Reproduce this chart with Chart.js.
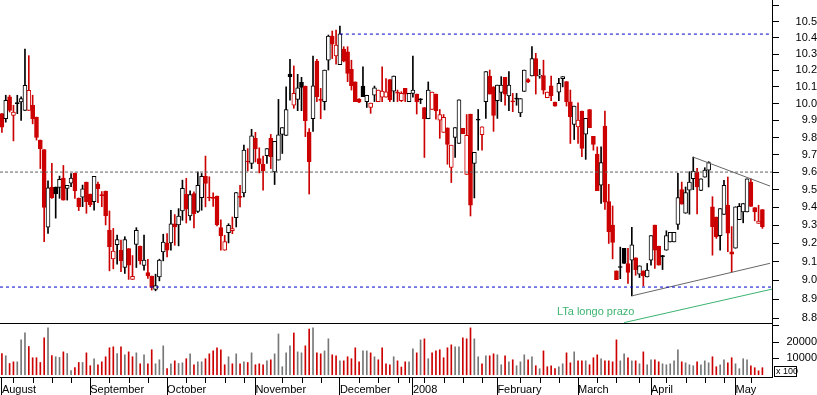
<!DOCTYPE html>
<html>
<head>
<meta charset="utf-8">
<script src="https://cdn.jsdelivr.net/npm/chart.js@4.4.1/dist/chart.umd.min.js"></script>
<style>
html, body { margin: 0; padding: 0; background: #fff; }
#wrap { width: 817px; height: 395px; }
</style>
</head>
<body>
<div id="wrap"><canvas id="grafico" width="817" height="395"></canvas></div>
<script>
// meses no eixo x (indice do primeiro pregao de cada mes)
const months = ['August', 'September', 'October', 'November', 'December', '2008', 'February', 'March', 'April', 'May'];
const monthStart = [0, 23, 43, 66, 88, 107, 129, 150, 169, 191];
const weekTicks = [3, 8, 13, 18, 28, 33, 38, 48, 53, 58, 63, 73, 78, 83, 93, 98, 103, 106, 110, 115, 120, 125, 135, 140, 145, 155, 160, 166, 173, 178, 183, 188, 195];
const totalSlots = 201;

const priceTicks = [8.8, 8.9, 9.0, 9.1, 9.2, 9.3, 9.4, 9.5, 9.6, 9.7, 9.8, 9.9, 10.0, 10.1, 10.2, 10.3, 10.4, 10.5, 10.6];
const volumeTicks = [10000, 20000, 30000];

const prevClose = 10.05;

const open = [
  9.94, 9.91, 10.04, 9.93, 10.00, 10.01, 9.96, 9.96, 9.99, 9.92,
  9.785, 9.73, 9.29, 9.515, 9.515, 9.513, 9.566, 9.507, 9.536, 9.594,
  9.453, 9.457, 9.543, 9.475, 9.432, 9.532, 9.470, 9.492, 9.274, 9.116,
  9.193, 9.163, 9.069, 9.172, 9.005, 9.195, 9.186, 9.080, 9.042, 9.023,
  8.951, 9.018, 9.154, 9.201, 9.203, 9.309, 9.302, 9.380, 9.474, 9.352,
  9.478, 9.378, 9.455, 9.575, 9.457, 9.457, 9.463, 9.287, 9.163, 9.260,
  9.271, 9.343, 9.462, 9.482, 9.663, 9.649, 9.795, 9.678, 9.645, 9.694,
  9.795, 9.601, 9.669, 9.818, 9.812, 10.178, 9.990, 10.025, 10.128, 10.105,
  9.832, 9.910, 10.256, 10.023, 10.012, 10.262, 10.411, 10.288, 10.235, 10.330,
  10.314, 10.206, 10.130, 10.027, 10.105, 10.012, 9.977, 10.050, 10.012, 10.038,
  10.038, 10.144, 10.075, 10.067, 10.018, 10.091, 10.012, 10.061, 10.057, 10.027,
  9.977, 9.910, 9.965, 10.057, 9.902, 9.830, 9.856, 9.626, 9.800, 9.765,
  9.854, 9.586, 9.937, 9.649, 9.904, 9.816, 10.012, 10.166, 10.101, 10.018,
  10.067, 10.158, 10.046, 10.014, 10.031, 9.945, 10.073, 10.144, 10.166, 10.272,
  10.165, 10.168, 10.035, 10.106, 10.009, 10.069, 10.150, 10.132, 10.011, 9.876,
  9.862, 9.955, 9.819, 9.965, 9.807, 9.703, 9.526, 9.867, 9.432, 9.302,
  9.051, 9.071, 9.174, 9.091, 9.109, 9.122, 9.033, 9.051, 9.018, 9.109,
  9.302, 9.185, 9.130, 9.163, 9.208, 9.208, 9.305, 9.500, 9.367, 9.497,
  9.562, 9.602, 9.496, 9.571, 9.611, 9.403, 9.346, 9.243, 9.361, 9.413,
  9.154, 9.174, 9.332, 9.375, 9.375, 9.543, 9.399, 9.311, 9.388
];
const high = [
  9.94, 10.05, 10.05, 9.99, 10.05, 10.04, 10.33, 10.29, 10.05, 9.92,
  9.785, 9.73, 9.55, 9.65, 9.515, 9.577, 9.638, 9.524, 9.592, 9.594,
  9.453, 9.526, 9.543, 9.475, 9.575, 9.543, 9.489, 9.492, 9.380, 9.283,
  9.246, 9.218, 9.237, 9.172, 9.134, 9.287, 9.186, 9.246, 9.114, 9.023,
  9.033, 9.114, 9.251, 9.254, 9.384, 9.360, 9.393, 9.554, 9.564, 9.493,
  9.487, 9.601, 9.592, 9.692, 9.573, 9.482, 9.463, 9.331, 9.245, 9.309,
  9.346, 9.484, 9.525, 9.756, 9.735, 9.848, 9.830, 9.740, 9.692, 9.735,
  9.818, 9.777, 10.025, 9.858, 10.101, 10.267, 10.227, 10.176, 10.158, 10.105,
  9.852, 10.288, 10.267, 10.091, 10.202, 10.417, 10.442, 10.448, 10.473, 10.345,
  10.345, 10.262, 10.130, 10.030, 10.221, 10.050, 10.003, 10.105, 10.081, 10.221,
  10.150, 10.144, 10.166, 10.081, 10.071, 10.091, 10.061, 10.288, 10.057, 10.030,
  9.977, 10.130, 10.069, 10.057, 9.965, 9.935, 9.856, 9.755, 9.858, 10.022,
  9.854, 9.935, 9.937, 9.713, 9.965, 9.862, 10.192, 10.202, 10.101, 10.111,
  10.162, 10.158, 10.192, 10.061, 10.061, 10.030, 10.202, 10.150, 10.345, 10.304,
  10.206, 10.262, 10.069, 10.166, 10.009, 10.152, 10.162, 10.132, 10.081, 9.985,
  10.005, 9.955, 9.912, 9.965, 9.807, 9.745, 9.745, 9.955, 9.530, 9.408,
  9.051, 9.180, 9.174, 9.174, 9.289, 9.122, 9.078, 9.051, 9.091, 9.243,
  9.302, 9.185, 9.135, 9.270, 9.261, 9.261, 9.593, 9.543, 9.515, 9.602,
  9.686, 9.621, 9.562, 9.625, 9.660, 9.460, 9.346, 9.393, 9.553, 9.571,
  9.293, 9.403, 9.422, 9.422, 9.562, 9.562, 9.399, 9.412, 9.388
];
const low = [
  9.83, 9.89, 9.95, 9.78, 9.94, 9.90, 9.96, 9.96, 9.88, 9.785,
  9.62, 9.21, 9.255, 9.45, 9.34, 9.451, 9.441, 9.441, 9.517, 9.451,
  9.382, 9.404, 9.367, 9.404, 9.385, 9.426, 9.404, 9.302, 9.051, 9.062,
  9.087, 9.046, 9.037, 9.005, 9.005, 9.069, 9.087, 9.055, 9.010, 8.948,
  8.944, 8.997, 9.105, 9.127, 9.163, 9.190, 9.187, 9.328, 9.313, 9.328,
  9.286, 9.371, 9.384, 9.403, 9.437, 9.406, 9.297, 9.163, 9.163, 9.203,
  9.254, 9.291, 9.403, 9.459, 9.606, 9.620, 9.658, 9.595, 9.497, 9.649,
  9.620, 9.529, 9.669, 9.707, 9.812, 10.021, 9.972, 9.958, 9.958, 9.805,
  9.475, 9.836, 10.012, 9.910, 9.962, 10.202, 10.272, 10.238, 10.235, 10.252,
  10.132, 10.081, 10.012, 10.005, 10.042, 9.977, 9.942, 10.012, 10.012, 10.012,
  10.038, 10.012, 10.012, 10.012, 10.012, 10.012, 10.012, 10.038, 9.938, 10.000,
  9.684, 9.910, 9.965, 9.908, 9.795, 9.830, 9.645, 9.540, 9.684, 9.765,
  9.822, 9.586, 9.352, 9.453, 9.726, 9.726, 9.912, 10.057, 9.836, 9.912,
  10.012, 9.990, 9.958, 9.952, 9.990, 9.922, 10.073, 10.125, 10.166, 10.057,
  10.152, 10.057, 10.035, 10.017, 9.985, 10.017, 10.100, 9.985, 9.765, 9.788,
  9.765, 9.688, 9.673, 9.857, 9.726, 9.494, 9.422, 9.389, 9.200, 9.116,
  9.004, 9.009, 9.091, 8.984, 8.917, 9.027, 9.015, 8.970, 9.018, 9.082,
  9.064, 9.082, 9.058, 9.163, 9.208, 9.208, 9.278, 9.418, 9.367, 9.362,
  9.500, 9.363, 9.494, 9.571, 9.515, 9.136, 9.228, 9.163, 9.361, 9.155,
  9.045, 9.174, 9.332, 9.314, 9.375, 9.406, 9.325, 9.311, 9.283
];
const close = [
  9.86, 10.02, 9.96, 9.95, 10.00, 10.03, 10.11, 10.08, 9.91, 9.80,
  9.735, 9.40, 9.51, 9.455, 9.477, 9.558, 9.441, 9.524, 9.566, 9.494,
  9.404, 9.505, 9.432, 9.415, 9.575, 9.505, 9.466, 9.354, 9.182, 9.158,
  9.222, 9.105, 9.222, 9.082, 9.021, 9.272, 9.105, 9.109, 9.024, 8.962,
  8.972, 9.109, 9.207, 9.163, 9.309, 9.291, 9.352, 9.507, 9.390, 9.472,
  9.365, 9.524, 9.575, 9.535, 9.453, 9.451, 9.302, 9.241, 9.211, 9.300,
  9.282, 9.484, 9.456, 9.726, 9.658, 9.809, 9.733, 9.647, 9.607, 9.735,
  9.688, 9.777, 9.816, 9.858, 9.965, 10.162, 10.061, 10.095, 10.097, 9.898,
  9.659, 10.107, 10.042, 10.019, 10.202, 10.411, 10.361, 10.355, 10.424, 10.256,
  10.182, 10.107, 10.012, 10.008, 10.042, 10.050, 10.003, 10.095, 10.081, 10.075,
  10.071, 10.022, 10.166, 10.063, 10.061, 10.057, 10.061, 10.081, 10.012, 10.023,
  9.910, 10.081, 10.069, 9.957, 9.935, 9.918, 9.760, 9.755, 9.858, 10.022,
  9.822, 9.812, 9.412, 9.713, 9.902, 9.862, 10.192, 10.057, 9.930, 10.111,
  10.111, 10.057, 10.111, 10.010, 10.027, 10.030, 10.202, 10.130, 10.272, 10.166,
  10.170, 10.081, 10.069, 10.047, 9.985, 10.122, 10.162, 10.011, 9.922, 9.985,
  9.902, 9.736, 9.912, 9.857, 9.759, 9.494, 9.654, 9.430, 9.265, 9.206,
  9.004, 9.069, 9.091, 9.042, 9.193, 9.058, 9.078, 9.024, 9.055, 9.243,
  9.163, 9.082, 9.128, 9.243, 9.261, 9.261, 9.455, 9.418, 9.484, 9.543,
  9.605, 9.515, 9.562, 9.611, 9.655, 9.293, 9.237, 9.393, 9.525, 9.256,
  9.141, 9.403, 9.406, 9.422, 9.562, 9.406, 9.375, 9.324, 9.293
];
// volume em lotes de 100
const volume = [
  13000, 11600, 6900, 7900, 7900, 21350, 25600, 17300, 10400, 10400,
  7500, 22600, 28700, 11800, 11000, 10600, 14000, 13000, 2600, 4300,
  7500, 7500, 13400, 5500, 9800, 6100, 7900, 11000, 16500, 17100,
  13000, 17100, 12200, 14000, 11000, 13400, 6700, 12200, 6700, 15300,
  6700, 9150, 17700, 3700, 6700, 8500, 6900, 7300, 9800, 12800,
  6100, 7900, 7900, 9800, 12800, 14600, 16500, 15300, 6100, 11000,
  6700, 12800, 6700, 7900, 7500, 13400, 6100, 6700, 6100, 8500,
  9150, 12800, 25000, 4900, 13400, 17700, 25600, 14000, 13400, 17700,
  28000, 28700, 13400, 12800, 14600, 22000, 12200, 11600, 8500, 8500,
  11000, 9800, 16500, 7900, 14600, 14600, 13400, 11000, 9150, 16500,
  6700, 6100, 11000, 8500,
  4700, 7900, 7900, 15900, 13400, 21350, 22000, 9800, 13400, 14600,
  15300, 10400, 16500, 18300, 17100, 17100, 22600, 22000, 28700, 22000,
  11000, 6700, 11600, 11600, 12800, 12200, 6100, 11600, 7900, 9150,
  5500, 7900, 12200, 9150, 11000, 5500, 3700, 14600, 4900, 5500,
  3700, 4900, 6700, 13400, 7300, 14000, 8500, 8500, 8500, 6100,
  10400, 12200, 9800, 8500, 8500, 7900, 21350, 8500, 12800, 10400,
  8500, 8500, 6700, 14000, 6100, 9150, 9150, 7900, 6700, 6100,
  6700, 8500, 15300, 7900, 7300, 6100, 5500, 7900, 6100, 8500,
  7300, 11000, 4900, 6100, 9150, 7300, 10400, 6700, 3700, 9800,
  9150, 5500, 4300, 2400, 4300
];

// linhas de suporte / resistencia (indice do pregao, preco)
const supportLine = [[-0.5, 9.6], [200.5, 9.6]];
const topLine = [[88, 10.423], [200.5, 10.423]];
const bottomLine = [[-0.5, 8.964], [200.5, 8.964]];
const triangleTop = [[180, 9.686], [200, 9.52]];
const triangleBottom = [[164, 8.917], [200, 9.092]];
const longTrend = [[162, 8.776], [200.5, 8.953]];
const noteText = 'LTa longo prazo';

const red = '#cc0000';
const black = '#000000';
const grey = '#777777';
const green = '#3cb371';
const fonte = '"Liberation Sans", Arial, sans-serif';

Chart.defaults.font.family = fonte;
Chart.defaults.color = '#000';

const labels = Array.from({ length: totalSlots }, (_, i) => {
  const k = monthStart.indexOf(i);
  return k >= 0 ? months[k] : '';
});

const isDown = close.map((c, i) => c < (i === 0 ? prevClose : close[i - 1]));
const lineColors = isDown.map(d => d ? red : black);
const fills = close.map((c, i) => c > open[i] ? '#ffffff' : lineColors[i]);
const volColors = isDown.map(d => d ? red : grey);

const wicks = low.map((l, i) => [l, high[i]]);
const bodies = open.map((o, i) => [Math.min(o, close[i]), Math.max(o, close[i])]);

let toPoints = arr => arr.map(p => ({ x: p[0], y: p[1] }));

let linha = (pts, color, dash) => ({
  type: 'line',
  data: toPoints(pts),
  xAxisID: 'xl',
  yAxisID: 'y',
  borderColor: color,
  borderWidth: 1,
  borderDash: dash,
  pointRadius: 0,
  fill: false,
  order: 1
});

// sem folga extra nas bordas dos eixos
let semPadding = s => {
  s.paddingTop = 0;
  s.paddingBottom = 0;
  s.paddingLeft = 0;
  s.paddingRight = 0;
};

const extras = {
  id: 'extras',
  afterDraw(chart) {
    const { ctx, chartArea, scales } = chart;
    const x = scales.x;
    const yv = scales.yv;
    ctx.save();
    ctx.strokeStyle = '#000';
    ctx.lineWidth = 1;
    ctx.beginPath();
    const sy = Math.round(yv.top) + 0.5;
    ctx.moveTo(chartArea.left, sy);
    ctx.lineTo(chartArea.right, sy);
    weekTicks.forEach(i => {
      const px = Math.round(x.getPixelForValue(i)) + 0.5;
      ctx.moveTo(px, x.top);
      ctx.lineTo(px, x.top + 6);
    });
    ctx.stroke();

    // caixa "x 100"
    const bx = Math.round(chartArea.right) + 2.5;
    const by = Math.round(yv.bottom) - 10.5;
    ctx.strokeRect(bx, by, 22, 10);
    ctx.font = '9px ' + fonte;
    ctx.fillStyle = '#000';
    ctx.textBaseline = 'middle';
    ctx.fillText('x 100', bx + 1.5, by + 5.5);

    // texto da LTa
    ctx.font = '11px ' + fonte;
    ctx.fillStyle = green;
    ctx.fillText(noteText, scales.xl.getPixelForValue(144.5), scales.y.getPixelForValue(8.834));
    ctx.restore();
  }
};

const grafico = new Chart(document.getElementById('grafico'), {
  type: 'bar',
  data: {
    labels,
    datasets: [
      {
        data: wicks,
        yAxisID: 'y',
        backgroundColor: lineColors,
        borderWidth: 0,
        barThickness: 1,
        minBarLength: 1,
        grouped: false,
        order: 3
      },
      {
        data: bodies,
        yAxisID: 'y',
        backgroundColor: fills,
        borderColor: lineColors,
        borderWidth: 1,
        borderSkipped: false,
        barThickness: 4,
        minBarLength: 1,
        grouped: false,
        order: 2
      },
      {
        data: volume,
        yAxisID: 'yv',
        backgroundColor: volColors,
        borderWidth: 0,
        barThickness: 1,
        grouped: false,
        order: 4
      },
      linha(supportLine, '#606060', [3, 2]),
      linha(topLine, '#0000cc', [3, 3]),
      linha(bottomLine, '#0000cc', [3, 3]),
      linha(triangleTop, '#666666', []),
      linha(triangleBottom, '#666666', []),
      linha(longTrend, green, [])
    ]
  },
  options: {
    responsive: false,
    animation: false,
    layout: { padding: 0 },
    plugins: { legend: { display: false }, tooltip: { enabled: false } },
    scales: {
      x: {
        type: 'category',
        offset: true,
        grid: { offset: false, drawOnChartArea: false, tickLength: 18, color: '#000', tickColor: '#000' },
        border: { display: true, color: '#000' },
        ticks: { autoSkip: false, maxRotation: 0, minRotation: 0, align: 'start', padding: -12, font: { size: 11 }, color: '#000' },
        afterBuildTicks: s => { s.ticks = monthStart.map(v => ({ value: v })); },
        afterFit: s => { s.height = 18; semPadding(s); }
      },
      xl: {
        type: 'linear',
        display: false,
        offset: false,
        min: -0.5,
        max: totalSlots - 0.5
      },
      y: {
        type: 'logarithmic',
        position: 'right',
        stack: 'painel',
        stackWeight: 323,
        min: 8.774,
        max: 10.637,
        grid: { drawOnChartArea: false, tickLength: 7, tickColor: '#000' },
        border: { display: true, color: '#000' },
        ticks: {
          autoSkip: false,
          crossAlign: 'far',
          padding: 11.6,
          font: { size: 11 },
          color: '#000',
          callback: v => v > 10.55 ? '' : v.toFixed(1)
        },
        afterBuildTicks: s => { s.ticks = priceTicks.map(v => ({ value: v })); },
        afterFit: s => { s.width = 45; semPadding(s); }
      },
      yv: {
        type: 'linear',
        position: 'right',
        stack: 'painel',
        stackWeight: 54,
        min: -1400,
        max: 31700,
        grid: { drawOnChartArea: false, tickLength: 7, tickColor: '#000' },
        border: { display: true, color: '#000' },
        ticks: {
          autoSkip: false,
          crossAlign: 'far',
          padding: 2.4,
          font: { size: 11 },
          color: '#000',
          callback: v => v === 30000 ? '' : String(v)
        },
        afterBuildTicks: s => { s.ticks = volumeTicks.map(v => ({ value: v })); },
        afterFit: s => { s.width = 45; semPadding(s); }
      }
    }
  },
  plugins: [extras]
});
</script>
</body>
</html>
